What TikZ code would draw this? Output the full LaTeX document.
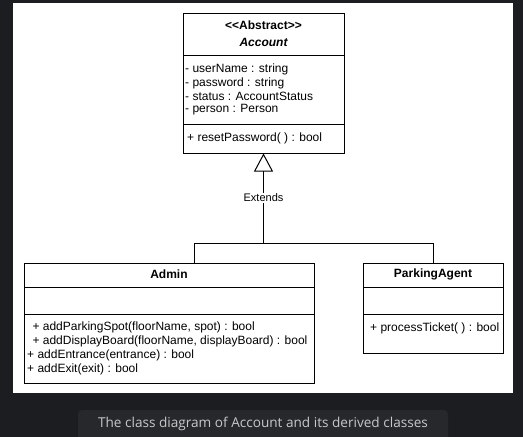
\documentclass[tikz,border=0pt]{standalone}
\usepackage{fontspec}
\setmainfont{Liberation Sans}[Ligatures=NoCommon]
\newfontfamily\capfont{Open Sans}
\usetikzlibrary{arrows.meta}
\definecolor{bgdark}{HTML}{1C1D20}
\definecolor{capbox}{HTML}{26282C}
\definecolor{captext}{HTML}{C8C8C8}
\begin{document}
\begin{tikzpicture}[x=1pt,y=-1pt,
  classbox/.style={draw=black,line width=1pt,fill=white,inner sep=0pt,minimum width=#1},
  txt/.style={inner sep=0pt,anchor=west,font=\fontsize{12}{14}\selectfont},
  ttl/.style={inner sep=0pt,font=\fontsize{12}{14}\selectfont\bfseries},
  sep/.style={line width=1pt},
  conn/.style={line width=1pt,draw=black}]
\useasboundingbox (0,0) rectangle (523,437);
\fill[bgdark] (0,0) rectangle (523,437);
\fill[white] (13,3) rectangle (513,393);
\fill[capbox,rounded corners=4pt] (78,410) rectangle (448,445);
\node[font=\capfont\fontsize{13.6}{15}\selectfont,text=captext,inner sep=0pt] (cap) at (263,424) {The class diagram of Account and its derived classes};
% Account
\node[classbox=161pt,minimum height=140pt] (acc) at (263.5,83) {};
\draw[sep] (183,55) -- (344,55);
\draw[sep] (183,124) -- (344,124);
\node[ttl] (accst) at (263.5,25) {\textless{}\textless{}Abstract\textgreater{}\textgreater{}};
\node[ttl,font=\fontsize{12}{14}\selectfont\bfseries\itshape] (accn) at (263.5,42) {Account};
\node[txt] (a1) at (185,69.5) {- userName : string};
\node[txt] (a2) at (185,83) {- password : string};
\node[txt] (a3) at (185,96.5) {- status : AccountStatus};
\node[txt] (a4) at (185,110) {- person : Person};
\node[txt] (am) at (187,138) {+ resetPassword( ) : bool};
% Admin
\node[classbox=290pt,minimum height=120pt] (admin) at (169,323) {};
\draw[sep] (24,287) -- (314,287);
\draw[sep] (24,314) -- (314,314);
\node[ttl] (adn) at (169,274) {Admin};
\node[txt] (m1) at (29,327) {\ + addParkingSpot(floorName, spot) : bool};
\node[txt] (m2) at (29,341) {\ + addDisplayBoard(floorName, displayBoard) : bool};
\node[txt] (m3) at (27,355) {+ addEntrance(entrance) : bool};
\node[txt] (m4) at (27,369) {+ addExit(exit) : bool};
% ParkingAgent
\node[classbox=140pt,minimum height=90pt] (pa) at (433,308) {};
\draw[sep] (363,287) -- (503,287);
\draw[sep] (363,314) -- (503,314);
\node[ttl] (pan) at (433,274) {ParkingAgent};
\node[txt] (p1) at (370,328) {+ processTicket( ) : bool};
% connectors
\coordinate (j) at (263.5,243);
\coordinate (aTop) at (194,263);
\draw[conn,-{Triangle[open,width=19pt,length=18pt,line width=1pt]}] (j) -- (acc.south);
\draw[conn] (j) -| (aTop);
\draw[conn] (j) -| (pa.north);
\node[fill=white,inner sep=1pt,font=\fontsize{11}{13}\selectfont] (ext) at (263.5,198) {Extends};
\end{tikzpicture}
\end{document}
